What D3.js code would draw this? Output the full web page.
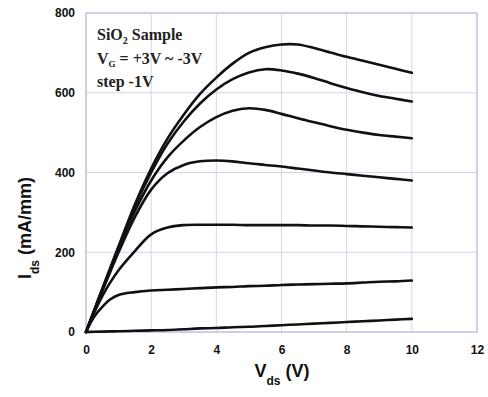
<!DOCTYPE html>
<html><head><meta charset="utf-8">
<script src="https://cdn.jsdelivr.net/npm/d3@7"></script>
<style>body{margin:0;background:#fff}svg{display:block}</style>
</head><body>
<script>
const vds = [0,0.25,0.5,0.75,1,1.5,2,2.5,3,3.5,4,4.5,5,5.5,6,6.5,7,7.5,8,8.5,9,9.5,10];
const idsVg3  = [0,54,108,162,215,320,410,485,545,597,638,673,700,714,721,721,712,701,690,680,670,660,650];
const idsVg2  = [0,54,108,160,213,315,400,472,528,573,608,634,651,659,656,648,637,624,612,601,592,585,578];
const idsVg1  = [0,53,105,158,210,303,380,438,480,514,539,555,561,557,547,536,526,516,507,500,494,490,486];
const idsVg0  = [0,52,103,152,200,288,357,398,419,428,430,428,423,419,415,410,405,400,396,392,388,384,380];
const idsVgm1 = [0,48,90,125,155,203,245,262,268,269,269,269,268,268,268,268,267,267,266,265,264,263,262];
const idsVgm2 = [0,38,63,82,93,100,104,106,108,110,112,113,115,116,118,119,120,121,122,124,126,127,129];
const idsVgm3 = [0,0.5,1,1.5,2,3,4,5,7,9,10,12,13,15,17,19,21,23,25,27,29,31,33];
const seriesList = [idsVg3, idsVg2, idsVg1, idsVg0, idsVgm1, idsVgm2, idsVgm3];
const xTicks = [0,2,4,6,8,10,12];
const yTicks = [0,200,400,600,800];
const annotation = ["SiO", "2", " Sample"];

const W = 488, H = 397;
const m = {left:86, right:11, top:13, bottom:65};
const svg = d3.select("body").append("svg").attr("width", W).attr("height", H);
const x = d3.scaleLinear().domain([0,12]).range([m.left, W - m.right]);
const y = d3.scaleLinear().domain([0,800]).range([H - m.bottom, m.top]);

// grid
svg.append("g").selectAll("line").data(xTicks).join("line")
  .attr("x1", d => x(d)).attr("x2", d => x(d)).attr("y1", y(0)).attr("y2", y(800))
  .attr("stroke", "#d4d4ee").attr("stroke-width", 1);
svg.append("g").selectAll("line").data(yTicks).join("line")
  .attr("y1", d => y(d)).attr("y2", d => y(d)).attr("x1", x(0)).attr("x2", x(12))
  .attr("stroke", "#d4d4ee").attr("stroke-width", 1);
svg.append("rect").attr("x", x(0)).attr("y", y(800)).attr("width", x(12)-x(0)).attr("height", y(0)-y(800))
  .attr("fill", "none").attr("stroke", "#b4b4e0").attr("stroke-width", 1);

// axes labels
const xAxis = d3.axisBottom(x).tickValues(xTicks).tickSize(0).tickPadding(13).tickFormat(d3.format("d"));
const gx = svg.append("g").attr("transform", `translate(0,${y(0)})`).call(xAxis);
const yAxis = d3.axisLeft(y).tickValues(yTicks).tickSize(0).tickPadding(11).tickFormat(d3.format("d"));
const gy = svg.append("g").attr("transform", `translate(${x(0)},0)`).call(yAxis);
[gx, gy].forEach(g => {
  g.select(".domain").remove();
  g.selectAll("text").attr("font-family", "Liberation Sans, Arial, sans-serif")
    .attr("font-weight", "bold").attr("font-size", 12).attr("fill", "#111");
});

// curves
const line = d3.line().x((d,i) => x(vds[i])).y(d => y(d)).curve(d3.curveCatmullRom.alpha(0.5));
svg.append("g").selectAll("path").data(seriesList).join("path")
  .attr("d", d => line(d)).attr("fill", "none").attr("stroke", "#111").attr("stroke-width", 2.6)
  .attr("stroke-linejoin", "round").attr("stroke-linecap", "round");

// annotation
const serif = "Liberation Serif, Times New Roman, serif";
const t1 = svg.append("text").attr("x", 97).attr("y", 40).attr("font-family", serif)
  .attr("font-weight", "bold").attr("font-size", 16).attr("fill", "#222");
t1.append("tspan").text(annotation[0]);
t1.append("tspan").text(annotation[1]).attr("font-size", 10).attr("dy", 4);
t1.append("tspan").text(annotation[2]).attr("dy", -4);
const t2 = svg.append("text").attr("x", 97).attr("y", 64).attr("font-family", serif)
  .attr("font-weight", "bold").attr("font-size", 16).attr("fill", "#222");
t2.append("tspan").text("V");
t2.append("tspan").text("G").attr("font-size", 9).attr("dy", 3);
t2.append("tspan").text(" = +3V ~ -3V").attr("dy", -3);
svg.append("text").attr("x", 97).attr("y", 87).attr("font-family", serif)
  .attr("font-weight", "bold").attr("font-size", 16).attr("fill", "#222").text("step -1V");

// axis titles
const sans = "Liberation Sans, Arial, sans-serif";
const xt = svg.append("text").attr("x", 282).attr("y", 377).attr("text-anchor", "middle")
  .attr("font-family", sans).attr("font-weight", "bold").attr("font-size", 18).attr("fill", "#111");
xt.append("tspan").text("V");
xt.append("tspan").text("ds").attr("font-size", 12).attr("dy", 8);
xt.append("tspan").text(" (V)").attr("dy", -8);
const yt = svg.append("text").attr("transform", "translate(31,228) rotate(-90)").attr("text-anchor", "middle")
  .attr("font-family", sans).attr("font-weight", "bold").attr("font-size", 18).attr("fill", "#111");
yt.append("tspan").text("I");
yt.append("tspan").text("ds").attr("font-size", 12).attr("dy", 8);
yt.append("tspan").text(" (mA/mm)").attr("dy", -8);
</script>
</body></html>
